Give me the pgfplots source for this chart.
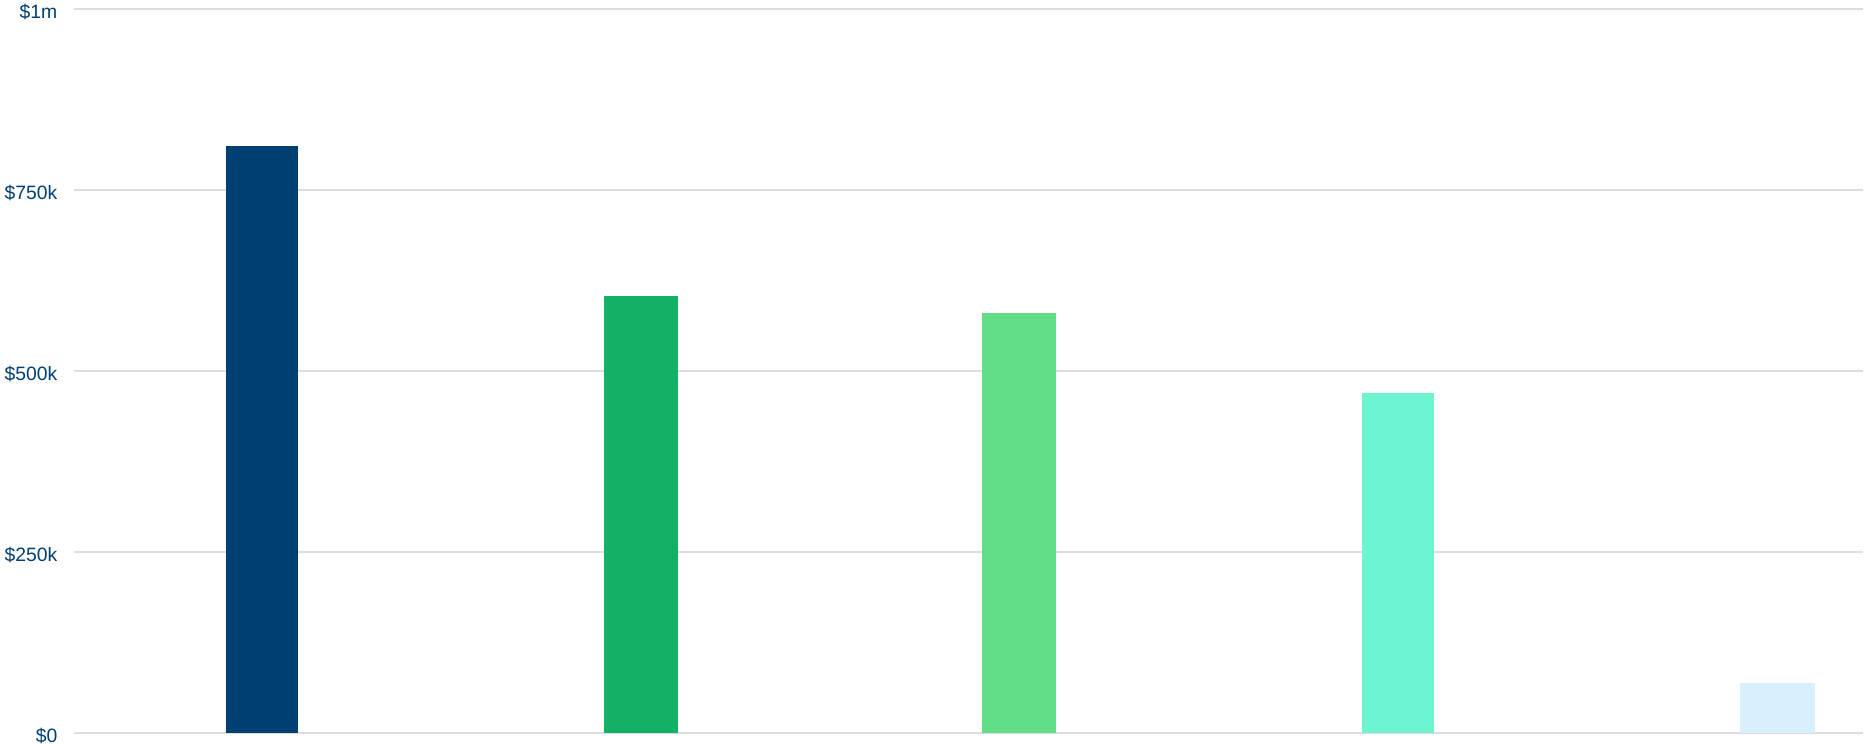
\documentclass[border=0pt]{standalone}
\usepackage{pgfplots}
\pgfplotsset{compat=1.18}
\usepackage{fontspec}
\setmainfont{Liberation Sans}

\definecolor{navy}{HTML}{003F72}
\definecolor{green1}{HTML}{12B166}
\definecolor{green2}{HTML}{62DE88}
\definecolor{mint}{HTML}{6EF4D0}
\definecolor{pale}{HTML}{D8EFFD}
\definecolor{gridc}{HTML}{DDDDDD}

\begin{document}
\begin{tikzpicture}
\begin{axis}[
  scale only axis,
  width=178.9mm, height=72.4mm,
  xmin=-0.496, xmax=4.227,
  ymin=0, ymax=1000000,
  ytick={0,250000,500000,750000,1000000},
  yticklabels={\$0,\$250k,\$500k,\$750k,\$1m},
  scaled y ticks=false,
  xtick=\empty,
  axis line style={draw=none},
  major tick length=0pt,
  ymajorgrids,
  grid style={draw=gridc, line width=0.15mm},
  yticklabel style={font=\fontsize{5.5}{6}\selectfont, text=navy, inner sep=0pt, anchor=east, xshift=-1.6mm, yshift=-0.3mm},
  clip=false,
]
\addplot[ybar, bar width=7.2mm, fill=navy, draw=none] coordinates {(0,811000)};
\addplot[ybar, bar width=7.4mm, fill=green1, draw=none] coordinates {(1,604000)};
\addplot[ybar, bar width=7.4mm, fill=green2, draw=none] coordinates {(2,580000)};
\addplot[ybar, bar width=7.2mm, fill=mint, draw=none] coordinates {(3,470000)};
\addplot[ybar, bar width=7.5mm, fill=pale, draw=none] coordinates {(4,69000)};
\end{axis}
\pgfresetboundingbox
\path (-7.4mm,-1.1mm) rectangle (179.1mm,73.3mm);
\end{tikzpicture}
\end{document}
